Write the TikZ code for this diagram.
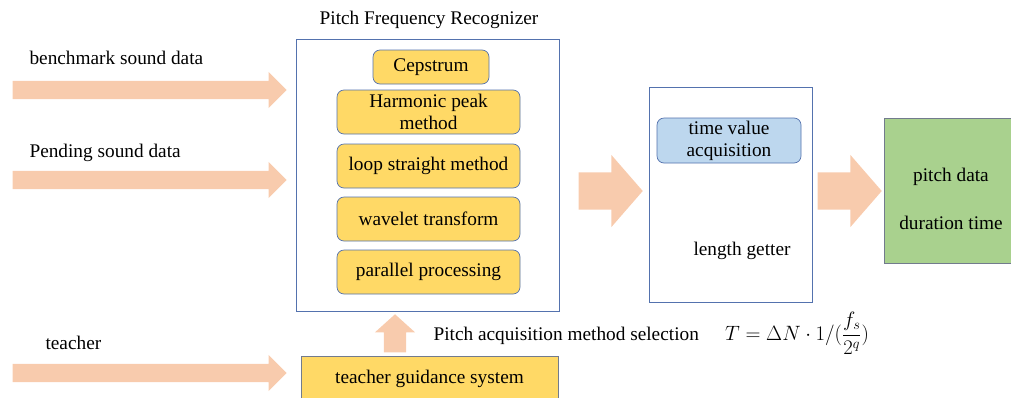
\documentclass[tikz,border=0pt]{standalone}
\usepackage{fontspec}
\setmainfont{Liberation Serif}
\usepackage{xcolor}
\usetikzlibrary{positioning,shapes.arrows}
\definecolor{peach}{HTML}{F8CBAD}
\definecolor{gold}{HTML}{FFD966}
\definecolor{skyfill}{HTML}{BDD7EE}
\definecolor{leaf}{HTML}{A9D18E}
\definecolor{frame}{HTML}{5472AE}
\begin{document}
\begin{tikzpicture}[x=1pt,y=-1pt,font=\fontsize{19.3}{22}\selectfont,
  box/.style={draw=frame,fill=white,line width=0.9pt,inner sep=0pt},
  meth/.style={draw=frame,fill=gold,rounded corners=7pt,align=center,inner sep=0pt,minimum width=183,minimum height=44,line width=0.7pt},
  fat/.style={single arrow,fill=peach,draw=none,inner xsep=0pt,anchor=tip},
  thin/.style={fat,inner ysep=9pt,single arrow head extend=9pt},
  thick/.style={fat,inner ysep=18.5pt,single arrow head extend=17.5pt,single arrow tip angle=98,minimum height=64}]
\useasboundingbox (0,0) rectangle (1011,397);
% recognizer
\node[box,minimum width=263,minimum height=272] (pfr) at (427.5,175) {};
\node (title) at (429,20) {Pitch Frequency Recognizer};
\node[meth,minimum width=116,minimum height=34] (cep) at (431,67) {Cepstrum};
\node[meth] (harm) at (428.5,112) {Harmonic peak\\method};
\node[meth] (loop) at (428.5,166) {loop straight method};
\node[meth] (wave) at (428.5,219) {wavelet transform};
\node[meth] (para) at (428.5,272) {parallel processing};
% length getter
\node[box,minimum width=163,minimum height=215] (lg) at (730.5,194.5) {};
\node[meth,fill=skyfill,minimum width=144,minimum height=45] (tva) at (729,140.5) {time value\\acquisition};
\node (lgl) at (742,251) {length getter};
% output
\node[box,fill=leaf,draw=gray!70!frame,minimum width=135,minimum height=145] (out) at (951.5,190.5) {};
\node (pd) at (951,177) {pitch data};
\node (dt) at (951,223) {duration time};
% teacher
\node[box,fill=gold,draw=gray!70!frame,minimum width=257,minimum height=46] (tgs) at (429.5,379) {teacher guidance system};
% inputs
\node[thin,minimum height=274] (a1) at (287,90) {};
\node[right] (l1) at (26,58) {benchmark sound data};
\node[thin,minimum height=274] (a2) at (287,180) {};
\node[right] (l2) at (26,153) {Pending sound data};
\node[thin,minimum height=274] (a3) at (287,373) {};
\node[right] (l3) at (42,343) {teacher};
% flow arrows
\node[thin,inner ysep=11pt,single arrow tip angle=96,rotate=90,minimum height=38] (up) at (395,314) {};
\node[right] (sel) at (430,336) {Pitch acquisition method selection};
\node[thick] (a4) at (643,191) {};
\node[thick] (a5) at (882,191) {};
\node (eq) at (797,333) {$T=\Delta N\cdot 1/(\displaystyle\frac{f_s}{2^q})$};
\end{tikzpicture}
\end{document}
